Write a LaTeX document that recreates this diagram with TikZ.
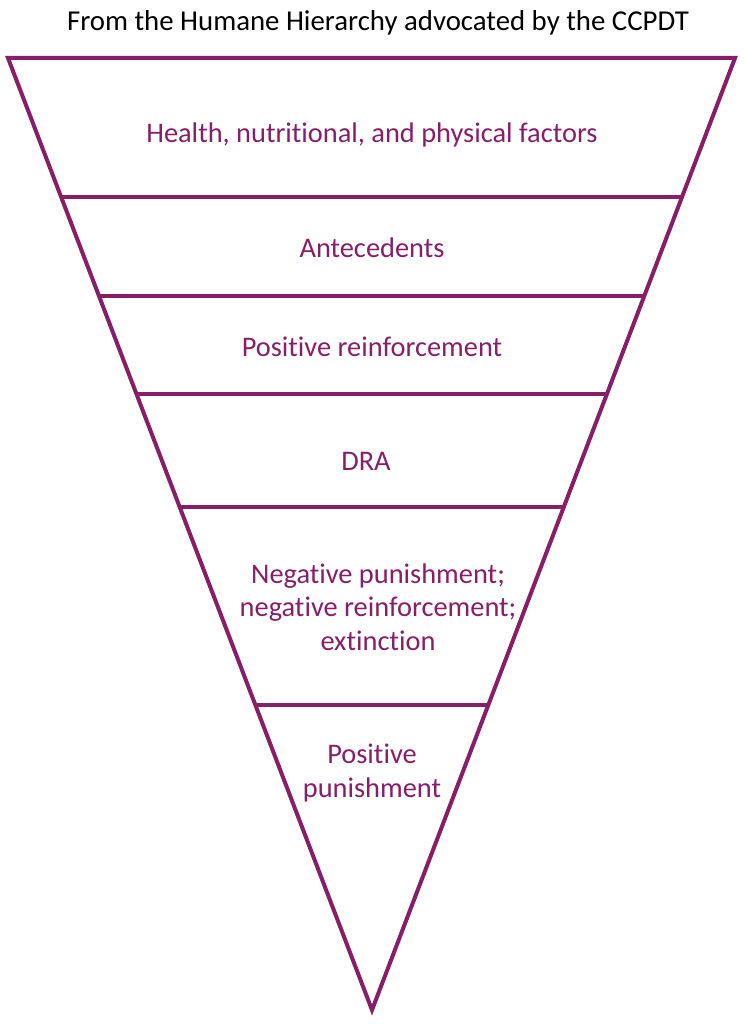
\documentclass[tikz,border=0pt]{standalone}
\usepackage{fontspec}
\setmainfont[Ligatures=NoCommon]{Carlito}
\usetikzlibrary{calc}
\definecolor{plum}{RGB}{134,30,104}

\begin{document}
\begin{tikzpicture}[x=1pt,y=-1pt]
    \tikzstyle{frame}=[draw=plum, line width=4pt, line join=miter]
    \tikzstyle{layer}=[text=plum, font=\fontsize{28.4}{33.5}\selectfont, align=center, inner sep=0pt]
    \tikzstyle{caption}=[text=black, font=\fontsize{28.8}{34}\selectfont, inner sep=0pt]

    \useasboundingbox (0,0) rectangle (744,1024);

    % Corners of the inverted triangle
    \coordinate (tl) at (8,58);
    \coordinate (tr) at (735,58);
    \coordinate (apex) at (372,1010);

    \draw[frame] (tl) -- (tr) -- (apex) -- cycle;

    % Dividing lines, as a fraction of the way down the sides
    \foreach \name / \t in {1/0.146,2/0.250,3/0.353,4/0.4716,5/0.6796}
    {
        \coordinate (L-\name) at ($(tl)!\t!(apex)$);
        \coordinate (R-\name) at ($(tr)!\t!(apex)$);
        \draw[frame] (L-\name) -- (R-\name);
    }

    % Labels
    \node[caption] (title) at (378,23) {From the Humane Hierarchy advocated by the CCPDT};
    \node[layer] (health) at (372,135) {Health, nutritional, and physical factors};
    \node[layer] (antecedents) at (372,248) {Antecedents};
    \node[layer] (posreinf) at (372,347) {Positive reinforcement};
    \node[layer] (dra) at (366,461) {DRA};
    \node[layer] (negpun) at (378,607) {Negative punishment;\\negative reinforcement;\\extinction};
    \node[layer] (pospun) at (372,773) {Positive\\punishment};
\end{tikzpicture}
\end{document}
